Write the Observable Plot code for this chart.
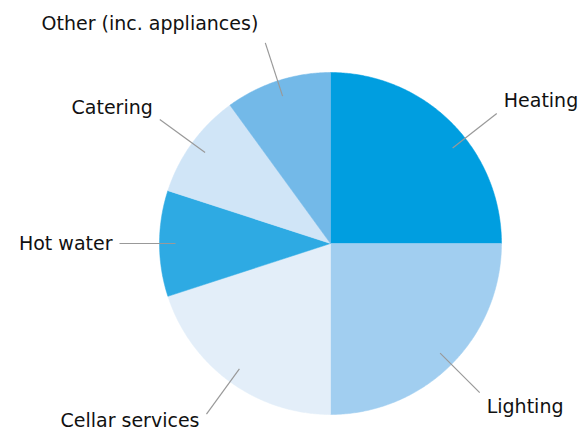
<!DOCTYPE html>
<html>
<head>
<meta charset="utf-8">
<script src="https://cdn.jsdelivr.net/npm/d3@7"></script>
<script src="https://cdn.jsdelivr.net/npm/@observablehq/plot@0.6"></script>
<style>
  html, body { margin: 0; padding: 0; background: #fff; }
  #chart { width: 585px; height: 430px; }
</style>
</head>
<body>
<div id="chart"></div>
<script>
const categories = ["Heating", "Lighting", "Cellar services", "Hot water", "Catering", "Other (inc. appliances)"];
const shares = [25, 25, 20, 10, 10, 10];
const colors = ["#009ee0", "#a1cef0", "#e3eef9", "#2eaae3", "#d0e5f7", "#73b9e8"];

const W = 585, H = 430, cx = 330, cy = 243, R = 171;
const rows = categories.map((name, i) => ({name, value: shares[i]}));
const arcs = d3.pie().sort(null).value(d => d.value)(rows);

// slice outlines (polygons) built from the pie angles
const pts = [];
for (const a of arcs) {
  const name = a.data.name;
  pts.push({name, x: cx, y: cy});
  const n = Math.max(2, Math.ceil((a.endAngle - a.startAngle) / (Math.PI / 360)));
  for (let k = 0; k <= n; k++) {
    const t = a.startAngle + (a.endAngle - a.startAngle) * k / n;
    pts.push({name, x: cx + R * Math.sin(t), y: cy - R * Math.cos(t)});
  }
  pts.push({name, x: cx, y: cy});
}

// leader lines and labels
const nudge = {"Heating": 7 * Math.PI / 180};
const labels = arcs.map(a => {
  const name = a.data.name;
  const m = (a.startAngle + a.endAngle) / 2 + (nudge[name] || 0);
  const s = Math.sin(m), c = Math.cos(m);
  const x1 = cx + 155 * s, y1 = cy - 155 * c;
  const x2 = cx + 211 * s, y2 = cy - 211 * c;
  return {
    name, x1, y1, x2, y2,
    right: s > 0.01,
    lx: x2 + (s > 0.01 ? 7 : -7),
    ly: Math.min(y2 - 20 * c, 420)
  };
});

const chart = Plot.plot({
  width: W,
  height: H,
  margin: 0,
  x: {domain: [0, W], range: [0, W], axis: null},
  y: {domain: [0, H], range: [0, H], axis: null},
  color: {domain: categories, range: colors},
  style: {background: "#fff", fontFamily: "DejaVu Sans"},
  marks: [
    Plot.line(pts, {x: "x", y: "y", z: "name", fill: "name", stroke: "name", strokeWidth: 0.5, curve: "linear"}),
    Plot.link(labels, {x1: "x1", y1: "y1", x2: "x2", y2: "y2", stroke: "#999999", strokeWidth: 1.2}),
    Plot.text(labels.filter(d => d.right), {x: "lx", y: "ly", text: "name", textAnchor: "start", lineAnchor: "middle", fontSize: 19, fill: "#111"}),
    Plot.text(labels.filter(d => !d.right), {x: "lx", y: "ly", text: "name", textAnchor: "end", lineAnchor: "middle", fontSize: 19, fill: "#111"})
  ]
});
document.getElementById("chart").appendChild(chart);
</script>
</body>
</html>
